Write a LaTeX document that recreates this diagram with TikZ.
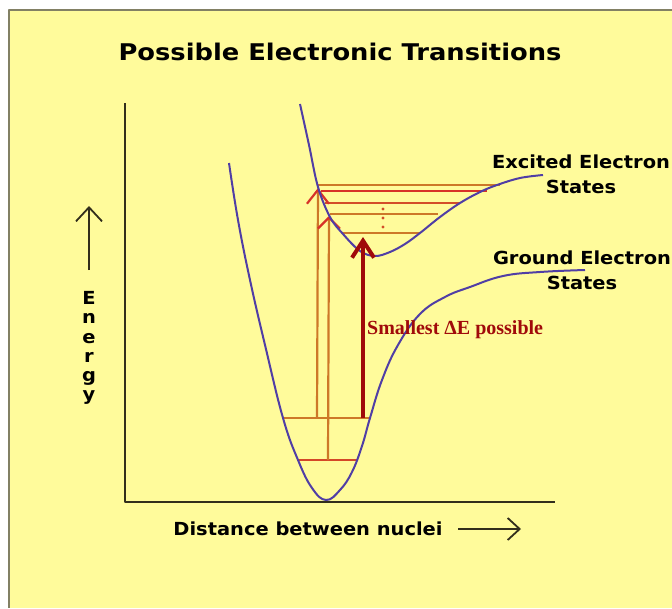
\documentclass[tikz,border=0pt]{standalone}
\usepackage{fontspec}
\usepackage{tikz}
\usetikzlibrary{arrows.meta}

\newfontfamily\labelfont[FakeStretch=1.08]{DejaVu Sans Bold}
\newfontfamily\titlefont[FakeStretch=1.12]{DejaVu Sans Bold}
\newfontfamily\deltafont{Liberation Serif Bold}

\definecolor{panel}{RGB}{255,251,155}
\definecolor{panelline}{RGB}{130,128,100}
\definecolor{axiscol}{RGB}{50,46,28}
\definecolor{curvecol}{RGB}{80,62,165}
\definecolor{levelor}{RGB}{205,120,40}
\definecolor{levelred}{RGB}{215,50,40}
\definecolor{deltared}{RGB}{160,10,10}

\tikzset{
  labeltext/.style={text=black, inner sep=0pt, font=\labelfont\fontsize{18}{25}\selectfont},
  levelline/.style={line width=2.2pt},
  curveline/.style={curvecol, line width=2pt}
}

\begin{document}
\begin{tikzpicture}[x=1pt, y=-1pt, line join=round]
  \useasboundingbox (0,0) rectangle (672,608);
  % Nen vang
  \fill[panel] (9,10) rectangle (672,608);
  \draw[panelline, line width=1.5pt] (9,608) -- (9,10) -- (672,10);

  % Tieu de
  \node[labeltext, font=\titlefont\fontsize{23}{27}\selectfont] (title) at (340,52) {Possible Electronic Transitions};

  % Truc toa do
  \draw[axiscol, line width=2.2pt] (125,103) -- (125,502) -- (555,502);

  % Nang luong
  \coordinate (ebot) at (89,270);
  \coordinate (etop) at (89,206);
  \draw[axiscol, line width=1.8pt, -{Straight Barb[length=14pt, width=26pt]}] (ebot) -- (etop);
  \node[labeltext, align=center, font=\labelfont\fontsize{18}{19.2}\selectfont] (energy) at (89,348) {E\\n\\e\\r\\g\\y};

  % Khoang cach
  \node[labeltext] (dist) at (308,529) {Distance between nuclei};
  \coordinate (dleft) at (458,529);
  \coordinate (dright) at (521,529);
  \draw[axiscol, line width=1.8pt, -{Straight Barb[length=12pt, width=22pt]}] (dleft) -- (dright);

  % Cac muc nang luong
  \draw[levelor, levelline] (283,418) -- (370,418);
  \draw[levelred!70!levelor, levelline] (298,460) -- (358,460);
  \draw[levelor, levelline] (317,185) -- (500,185);
  \draw[levelred, levelline] (321,191) -- (487,191);
  \draw[levelred!60!levelor, levelline] (325,203) -- (460,203);
  \draw[levelor, levelline] (330,214) -- (438,214);
  \draw[levelor, levelline] (343,233) -- (420,233);
  \fill[levelred!60!levelor] (383,209) circle (1.6pt) (383,218) circle (1.6pt) (383,227) circle (1.6pt);

  % Chuyen muc
  \coordinate (g1) at (317,418);
  \coordinate (x1) at (318,188);
  \coordinate (g0) at (328,460);
  \coordinate (x0) at (329,216);
  \draw[levelor, levelline, -{Straight Barb[length=14pt, width=22pt, color=levelred]}] (g1) -- (x1);
  \draw[levelor, levelline, -{Straight Barb[length=11pt, width=22pt, color=levelred]}] (g0) -- (x0);

  % Duong cong trang thai co ban
  \draw[curveline] plot[smooth, tension=0.7] coordinates {(229,163) (238,220) (250,280) (265,345) (283,418) (298,460) (312,488) (326,500) (340,490) (352,472) (362,446) (370,418) (382,380) (398,345) (420,314) (445,297) (470,287) (503,276) (540,272) (585,270)};

  % Duong cong trang thai kich thich
  \draw[curveline] plot[smooth, tension=0.6] coordinates {(300,104) (309,145) (318,187) (330,217) (343,234) (360,251) (375,256) (390,252) (405,244) (420,233) (440,217) (460,203) (480,192) (497,185) (520,178) (543,175)};

  % Muc nho nhat
  \coordinate (gs) at (363,418);
  \coordinate (xs) at (363,237);
  \draw[deltared, line width=4pt, -{Straight Barb[length=17pt, width=22pt]}] (gs) -- (xs);
  \node[deltared, inner sep=0pt, anchor=west, font=\deltafont\fontsize{20}{23}\selectfont] (dE) at (367,330) {Smallest ΔE possible};

  % Nhan trang thai
  \node[labeltext, align=center] (excited) at (581,174) {Excited Electron\\States};
  \node[labeltext, align=center] (ground) at (582,270) {Ground Electron\\States};
\end{tikzpicture}
\end{document}
